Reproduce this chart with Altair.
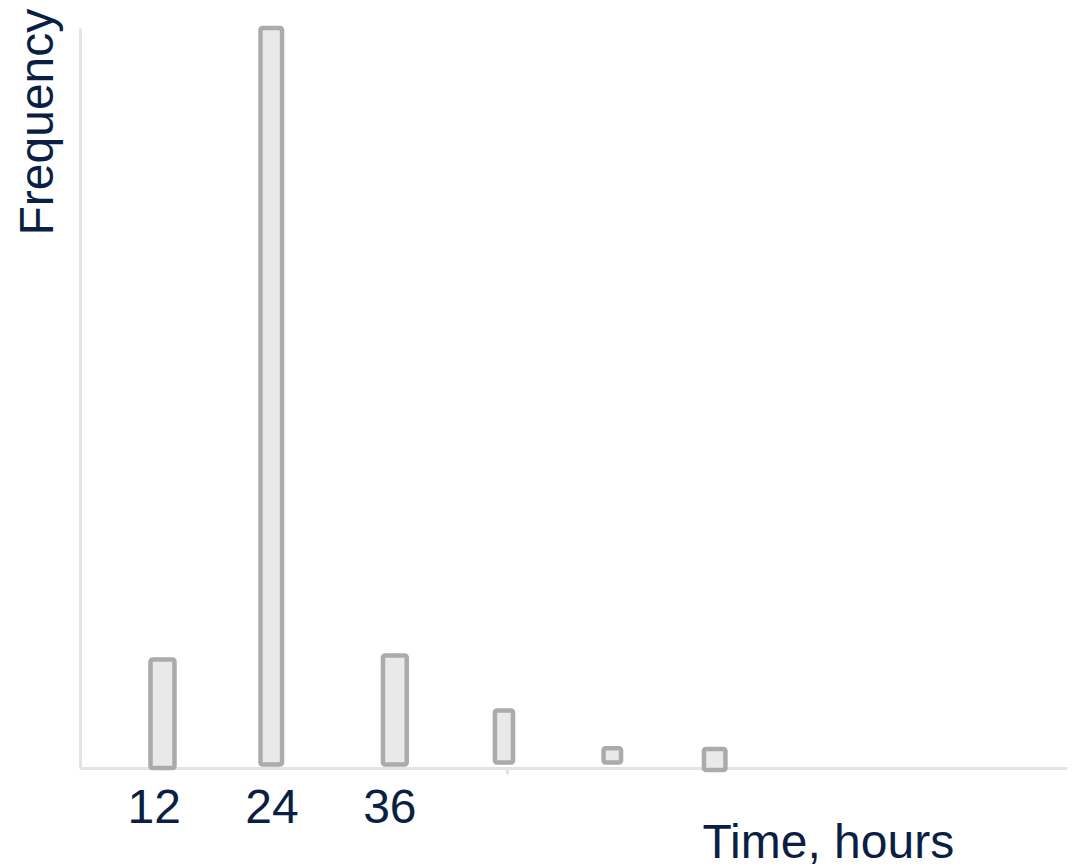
import altair as alt
import pandas as pd

# Histogram bars: bin edges (hours) and frequency (top / base)
bin_start = [11.68, 22.88, 35.35, 46.75, 57.81, 68.03]
bin_end = [14.12, 25.07, 37.77, 48.59, 59.59, 70.22]
freq_top = [14.66, 100.0, 15.2, 7.76, 2.67, 2.57]
freq_base = [0.0, 0.47, 0.48, 0.75, 0.75, -0.28]

# x-axis ticks and their labels
tick_values = [12, 24, 36, 48]
tick_labels = ["12", "24", "36", ""]

x_title = "Time, hours"
y_title = "Frequency"

df = pd.DataFrame({"start": bin_start, "end": bin_end, "top": freq_top, "base": freq_base})

TEXT = "#0b1f45"
AXIS = "#e3e3e3"
FONT = "Liberation Sans"

label_expr = " : ".join(
    f"datum.value == {v} ? '{l}'" for v, l in zip(tick_values, tick_labels)
) + " : ''"
shown_ticks = " || ".join(f"datum.value == {v}" for v, l in zip(tick_values, tick_labels) if l == "")

x_axis = alt.Axis(
    values=tick_values,
    labelExpr=label_expr,
    labelFont=FONT,
    labelFontSize=48,
    labelColor=TEXT,
    labelPadding=10,
    labelFlush=False,
    domainColor=AXIS,
    domainWidth=3,
    tickSize=6,
    tickWidth=3,
    tickColor={"condition": {"test": shown_ticks, "value": AXIS}, "value": "transparent"},
    grid=False,
    title=x_title,
    titleFont=FONT,
    titleFontSize=48,
    titleFontWeight="normal",
    titleColor=TEXT,
    titleAngle=0,
    titleAlign="left",
    titleBaseline="alphabetic",
    titleX=622,
    titleY=89,
)

y_axis = alt.Axis(
    labels=False,
    ticks=False,
    grid=False,
    domainColor=AXIS,
    domainWidth=3,
    title=y_title,
    titleFont=FONT,
    titleFontSize=48,
    titleFontWeight="normal",
    titleColor=TEXT,
    titleAngle=270,
    titleAlign="left",
    titleBaseline="alphabetic",
    titleX=-28,
    titleY=207,
)

chart = (
    alt.Chart(df)
    .mark_rect(fill="#e9e9e9", stroke="#ababab", strokeWidth=4.5, cornerRadius=2, strokeJoin="round", clip=False)
    .encode(
        x=alt.X("start:Q", scale=alt.Scale(domain=[4.5, 105], zero=False, nice=False), axis=x_axis),
        x2="end:Q",
        y=alt.Y("top:Q", scale=alt.Scale(domain=[0, 100], zero=False, nice=False), axis=y_axis),
        y2="base:Q",
    )
    .properties(
        width=987,
        height=740,
        autosize=alt.AutoSizeParams(type="none"),
        padding={"left": 72, "top": 20, "right": 1, "bottom": 100},
        background="white",
    )
    .configure_view(stroke=None)
)

chart.save("out.html", embed_options={"renderer": "svg", "actions": False})
